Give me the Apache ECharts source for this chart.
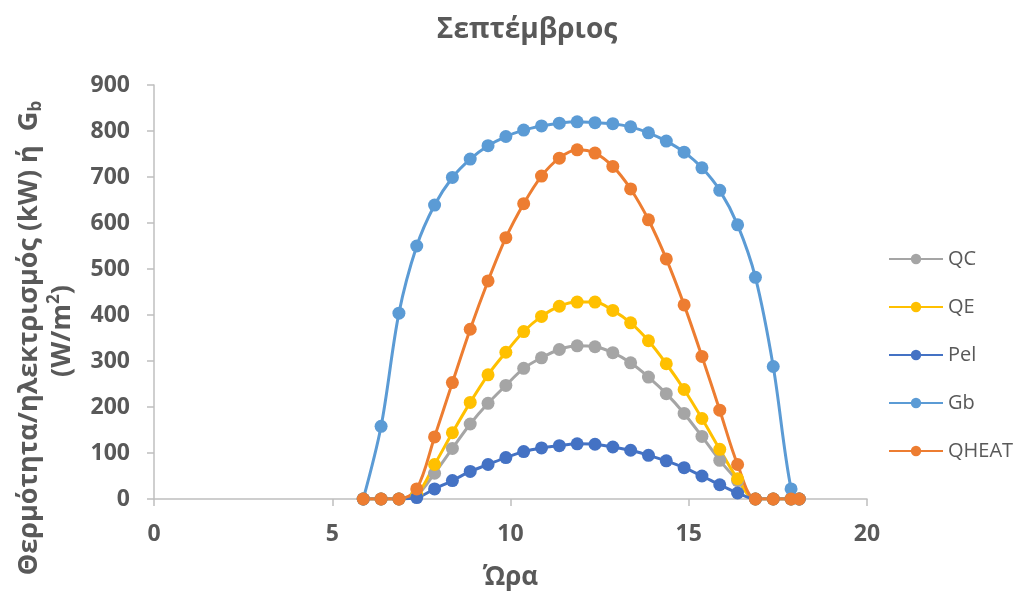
<!DOCTYPE html>
<html>
<head>
<meta charset="utf-8">
<script src="https://cdn.jsdelivr.net/npm/echarts@6/dist/echarts.min.js"></script>
<style>
  html, body { margin: 0; padding: 0; background: #ffffff; }
  #chart { width: 1017px; height: 591px; }
</style>
</head>
<body>
<div id="chart"></div>
<script>
// Solar time of each half-hour sample (h)
const hours = [5.87, 6.37, 6.87, 7.37, 7.87, 8.37, 8.87, 9.37, 9.87, 10.37, 10.87, 11.37, 11.87,
               12.37, 12.87, 13.37, 13.87, 14.37, 14.87, 15.37, 15.87, 16.37, 16.87, 17.37, 17.87, 18.1];

// Series values (kW, or W/m2 for Gb)
const QC    = [0, 0, 0, 8, 56, 110, 163, 208, 247, 284, 307, 325, 333, 331, 318, 296, 265, 229, 186, 136, 84, 40, 0, 0, 0, 0];
const QE    = [0, 0, 0, 10, 75, 144, 210, 270, 319, 364, 397, 419, 428, 428, 410, 383, 344, 294, 238, 175, 108, 44, 0, 0, 0, 0];
const Pel   = [0, 0, 0, 3, 22, 40, 60, 75, 90, 103, 111, 116, 120, 119, 113, 106, 95, 83, 68, 50, 31, 13, 0, 0, 0, 0];
const Gb    = [0, 158, 404, 550, 639, 699, 739, 768, 788, 802, 811, 817, 820, 818, 816, 809, 796, 778, 754, 720, 671, 596, 482, 288, 22, 0];
const QHEAT = [0, 0, 0, 22, 135, 253, 369, 474, 568, 642, 702, 741, 759, 752, 723, 674, 607, 522, 422, 310, 193, 75, 0, 0, 0, 0];

const seriesNames  = ['QC', 'QE', 'Pel', 'Gb', 'QHEAT'];
const seriesValues = [QC, QE, Pel, Gb, QHEAT];
const seriesColors = ['#A5A5A5', '#FFC000', '#4472C4', '#5B9BD5', '#ED7D31'];

const FONT = '"Open Sans", "Noto Sans", sans-serif';
const TEXT = '#595959';
const AXIS = '#BFBFBF';

const chart = echarts.init(document.getElementById('chart'), null, { renderer: 'canvas' });

const series = seriesNames.map((name, i) => ({
  name: name,
  type: 'line',
  data: hours.map((h, k) => [h, seriesValues[i][k]]),
  smooth: 0.33,
  symbol: 'circle',
  symbolSize: 13,
  showAllSymbol: true,
  itemStyle: { color: seriesColors[i] },
  lineStyle: { color: seriesColors[i], width: 3 },
  emphasis: { disabled: true },
  animation: false
}));

chart.setOption({
  animation: false,
  backgroundColor: '#ffffff',
  textStyle: { fontFamily: FONT },
  title: {
    text: 'Σεπτέμβριος',
    left: 522,
    top: 11,
    textAlign: 'center',
    textStyle: { fontFamily: FONT, fontSize: 28, fontWeight: 'bold', color: TEXT }
  },
  grid: { left: 154, right: 150, top: 85, bottom: 92, containLabel: false, outerBoundsMode: 'none' },
  legend: {
    orient: 'vertical',
    left: 888,
    top: 249,
    padding: 0,
    itemWidth: 54,
    itemHeight: 13,
    itemGap: 28,
    data: seriesNames,
    textStyle: { fontFamily: FONT, fontSize: 20, color: TEXT },
    selectedMode: false
  },
  xAxis: {
    type: 'value',
    min: 0,
    max: 20,
    interval: 5,
    name: 'Ώρα',
    nameLocation: 'middle',
    nameGap: 66,
    nameTextStyle: { fontFamily: FONT, fontSize: 26, fontWeight: 'bold', color: TEXT },
    splitLine: { show: false },
    axisLine: { show: true, lineStyle: { color: AXIS, width: 1.5 } },
    axisTick: { show: true, length: 7, lineStyle: { color: AXIS, width: 1.5 } },
    axisLabel: { margin: 24, fontFamily: FONT, fontSize: 23, fontWeight: 'bold', color: TEXT }
  },
  yAxis: {
    type: 'value',
    min: 0,
    max: 900,
    interval: 100,
    splitLine: { show: false },
    axisLine: { show: true, lineStyle: { color: AXIS, width: 1.5 } },
    axisTick: { show: true, length: 7, lineStyle: { color: AXIS, width: 1.5 } },
    axisLabel: { margin: 24, fontFamily: FONT, fontSize: 23, fontWeight: 'bold', color: TEXT }
  },
  graphic: [
    {
      type: 'text',
      x: 29,
      y: 338,
      rotation: Math.PI / 2,
      style: {
        text: '{a|Θερμότητα/ηλεκτρισμός (kW) ή  G}{sub|b}',
        align: 'center',
        verticalAlign: 'middle',
        fill: TEXT,
        rich: {
          a: { fontFamily: FONT, fontSize: 27, fontWeight: 'bold', fill: TEXT, lineHeight: 32, verticalAlign: 'middle' },
          sub: { fontFamily: FONT, fontSize: 17, fontWeight: 'bold', fill: TEXT, lineHeight: 18, verticalAlign: 'bottom' }
        }
      }
    },
    {
      type: 'text',
      x: 62,
      y: 331,
      rotation: Math.PI / 2,
      style: {
        text: '{a|(W/m}{sup|2}{a|)}',
        align: 'center',
        verticalAlign: 'middle',
        fill: TEXT,
        rich: {
          a: { fontFamily: FONT, fontSize: 27, fontWeight: 'bold', fill: TEXT, lineHeight: 32, verticalAlign: 'middle' },
          sup: { fontFamily: FONT, fontSize: 17, fontWeight: 'bold', fill: TEXT, lineHeight: 18, verticalAlign: 'top' }
        }
      }
    }
  ],
  series: series
});
</script>
</body>
</html>
